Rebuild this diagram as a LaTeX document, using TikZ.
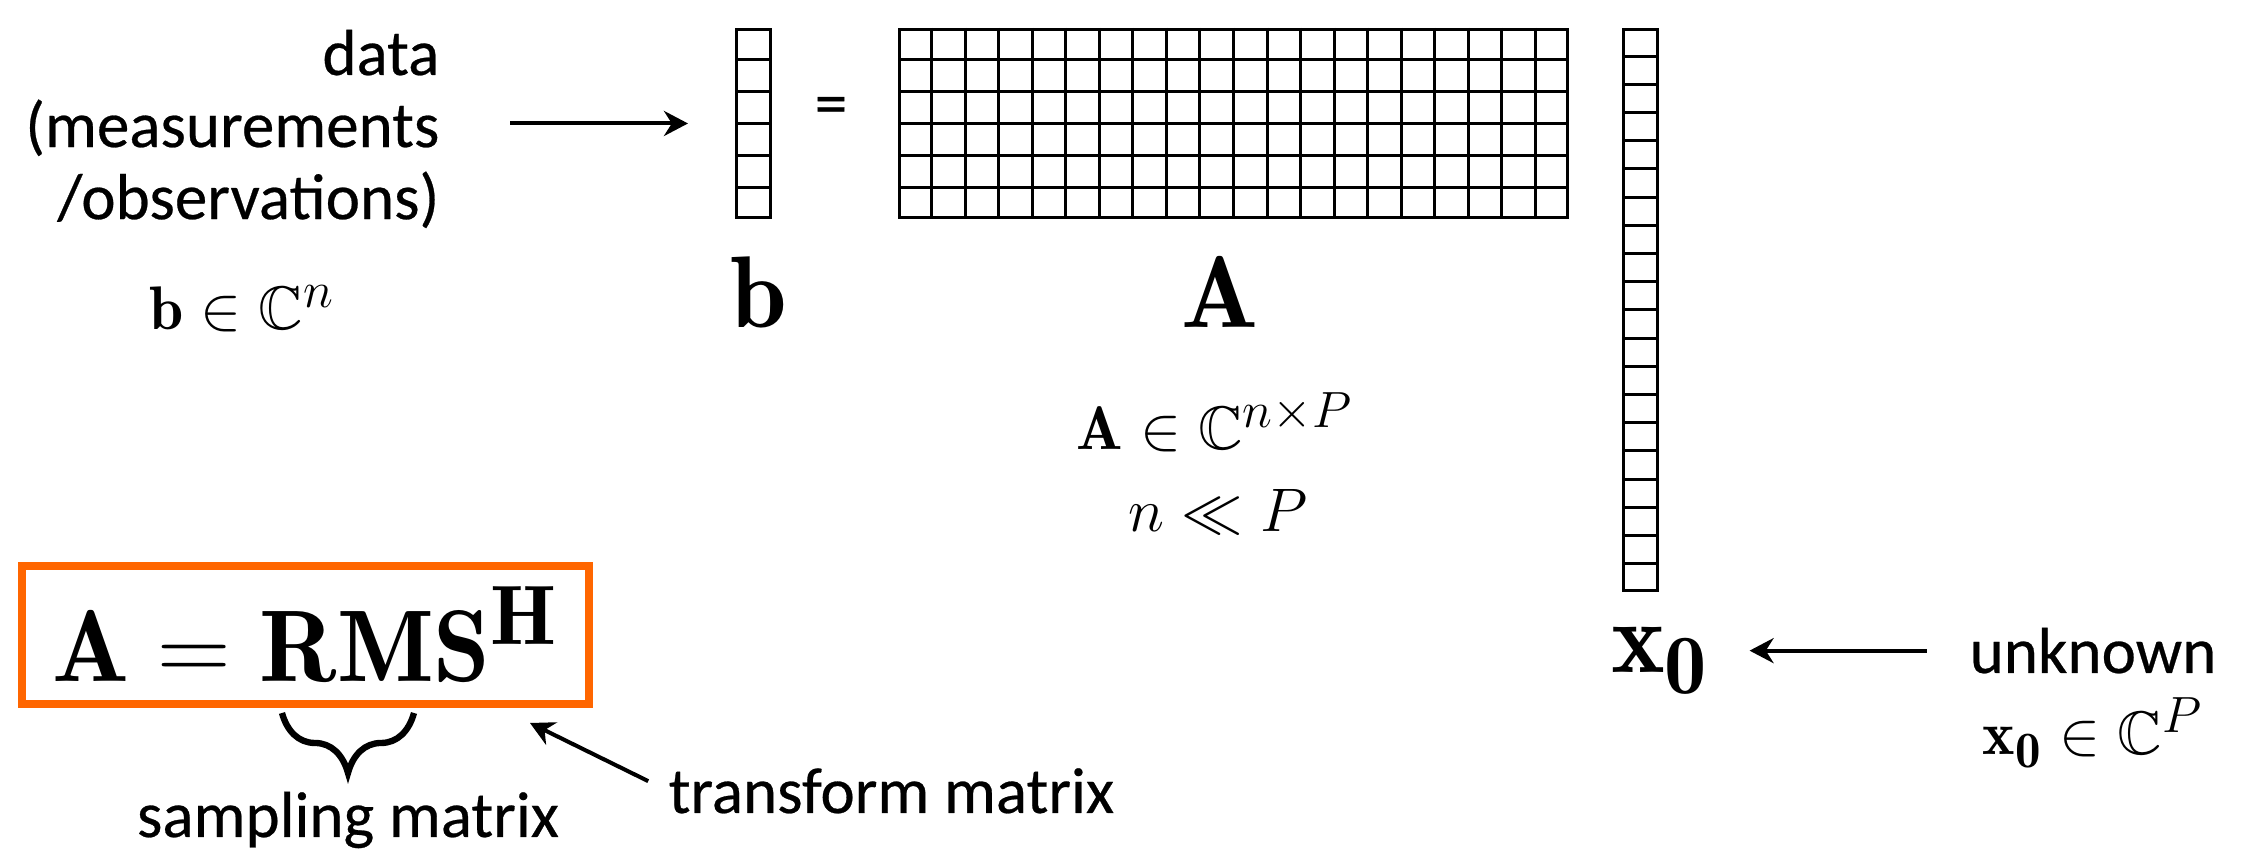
\documentclass[tikz,border=0pt]{standalone}
\usepackage{fix-cm}
\usepackage{amsmath,amssymb}
\usepackage{fontspec}
\newfontfamily\gillsans[FakeBold=0.4]{Carlito}
\DeclareFontFamily{U}{msb}{}
\DeclareFontShape{U}{msb}{m}{n}{<-> msbm10}{}
\DeclareMathSizes{29}{29}{24}{19.5}
\DeclareMathSizes{17.5}{17.5}{14.5}{12}
\usetikzlibrary{calc,arrows.meta,decorations.pathreplacing}
\definecolor{boxorange}{HTML}{FF6600}
\tikzstyle{cell} = [line width=0.85pt]
\tikzstyle{vecbox} = [draw, line width=0.85pt, inner sep=0, anchor=north west]
\tikzstyle{lbl} = [inner sep=0, font=\gillsans\fontsize{18.5}{20.5}\selectfont]
\tikzstyle{bigmath} = [inner sep=0, font=\fontsize{29}{33}\selectfont]
\tikzstyle{smallmath} = [inner sep=0, font=\fontsize{17.5}{21}\selectfont]
\tikzstyle{arr} = [-{Stealth[length=2.4mm, width=2.5mm]}, line width=1.15pt]
\tikzstyle{underbr} = [line width=1.8pt, decorate, decoration={brace, mirror, amplitude=0.6cm}]

\begin{document}
\begin{tikzpicture}
\useasboundingbox (0,0) rectangle (22.46,8.5);

% data side
\node (data) [lbl, align=right, anchor=east] at (4.40,7.21) {data\\(measurements\\/observations)};
\node (bin) [smallmath, anchor=base] at (2.42,5.20) {$\mathbf{b}\in\mathbb{C}^n$};

% b = A x0
\node (bvec) [vecbox, minimum width=3.4mm, minimum height=18.8mm] at (7.35,8.22) {};
\foreach \i in {1,...,5}
  \draw[cell] ($(bvec.north west)!\i/6!(bvec.south west)$) -- ($(bvec.north east)!\i/6!(bvec.south east)$);

\node (eq) [lbl] at (8.31,7.39) {=};

\node (Amat) [vecbox, minimum width=66.8mm, minimum height=18.8mm] at (8.98,8.22) {};
\foreach \i in {1,...,5}
  \draw[cell] ($(Amat.north west)!\i/6!(Amat.south west)$) -- ($(Amat.north east)!\i/6!(Amat.south east)$);
\foreach \j in {1,...,19}
  \draw[cell] ($(Amat.north west)!\j/20!(Amat.north east)$) -- ($(Amat.south west)!\j/20!(Amat.south east)$);

\node (xvec) [vecbox, minimum width=3.4mm, minimum height=56.1mm] at (16.22,8.22) {};
\foreach \i in {1,...,19}
  \draw[cell] ($(xvec.north west)!\i/20!(xvec.south west)$) -- ($(xvec.north east)!\i/20!(xvec.south east)$);

\node (blab) [bigmath, anchor=base] at (7.59,5.22) {$\mathbf{b}$};
\node (Alab) [bigmath, anchor=base] at (12.20,5.22) {$\mathbf{A}$};
\node (Ain) [smallmath, anchor=base] at (12.15,4.00) {$\mathbf{A}\in\mathbb{C}^{n\times P}$};
\node (nP) [smallmath, anchor=base] at (12.18,3.18) {$n\ll P$};

\node (xlab) [bigmath, anchor=base] at (16.60,1.77) {$\mathbf{x_0}$};
\node (unk) [lbl, anchor=base] at (20.93,1.77) {unknown};
\node (xin) [smallmath, anchor=base] at (20.93,0.95) {$\mathbf{x_0}\in\mathbb{C}^P$};

% A = RMS^H
\node (rms) [bigmath, draw=boxorange, line width=0.8mm, minimum width=5.67cm, minimum height=1.38cm] at (3.055,2.15) {$\mathbf{A}=\mathbf{RMS^H}$};
\draw[underbr] ([xshift=2.64cm, yshift=-0.05cm]rms.south west) -- ([xshift=3.96cm, yshift=-0.05cm]rms.south west);
\node (samp) [lbl, anchor=base] at (3.48,0.13) {sampling matrix};
\node (tmat) [lbl, anchor=base west] at (6.68,0.37) {transform matrix};
\coordinate (ttip) at (5.30,1.27);

% arrows
\draw[arr, shorten <=0.70cm, shorten >=0.47cm] (data.east |- bvec.west) -- (bvec.west);
\draw[arr, shorten <=0.42cm, shorten >=0.40cm] (unk.west) -- (unk.west -| xlab.east);
\draw[arr, shorten <=0.22cm] (tmat.west) -- (ttip);

\end{tikzpicture}
\end{document}
